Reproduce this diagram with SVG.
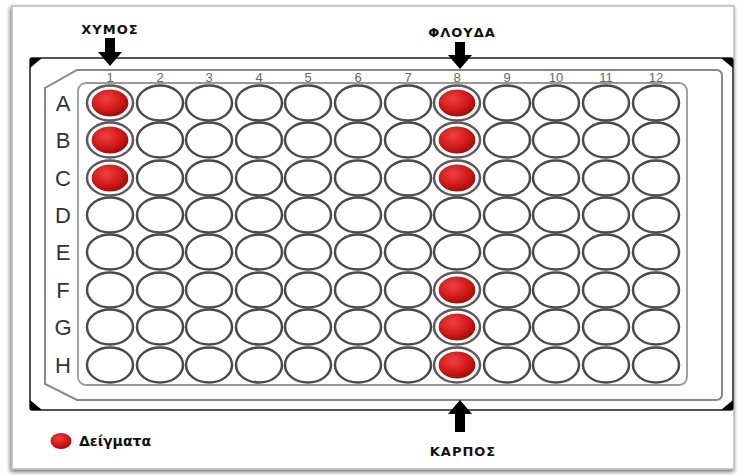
<svg xmlns="http://www.w3.org/2000/svg" width="743" height="475" viewBox="0 0 743 475">
<defs>
<radialGradient id="red" cx="0.4" cy="0.35" r="0.7">
<stop offset="0" stop-color="#f04040"/>
<stop offset="0.6" stop-color="#d01818"/>
<stop offset="1" stop-color="#8a0c0c"/>
</radialGradient>
<filter id="sh" x="-5%" y="-5%" width="110%" height="110%">
<feGaussianBlur in="SourceAlpha" stdDeviation="2"/>
<feOffset dx="-1" dy="2"/>
<feComponentTransfer><feFuncA type="linear" slope="0.6"/></feComponentTransfer>
<feMerge><feMergeNode/><feMergeNode in="SourceGraphic"/></feMerge>
</filter>
</defs>
<style>
.w{fill:#fff;stroke:#4a4a4a;stroke-width:2.5}
.r{fill:url(#red);stroke:#fff;stroke-width:1.2}
.rr{fill:#fff;stroke:#5a5a5a;stroke-width:2.5}
.col{font-family:"Liberation Sans",Arial,sans-serif;font-size:13px;fill:#666;text-anchor:middle}
.row{font-family:"Liberation Sans",Arial,sans-serif;font-size:22px;fill:#333;text-anchor:middle}
.lab{font-family:"DejaVu Sans",sans-serif;font-weight:bold;font-size:13px;fill:#111;text-anchor:middle;letter-spacing:1px}
.arr{fill:#000}
</style>
<rect x="0" y="0" width="743" height="475" fill="#fff"/>
<rect x="12" y="6" width="722" height="463" fill="#fff" stroke="#bbb" stroke-width="1.5" filter="url(#sh)"/>
<g id="plate">
<rect x="30" y="58" width="703" height="352" rx="3" fill="#fff" stroke="#555" stroke-width="2"/>
<path d="M30,58 L42,58 L30,68 Z M733,58 L721,58 L733,68 Z M30,410 L42,410 L30,400 Z M733,410 L721,410 L733,400 Z" fill="#000"/>
<path d="M77,70 L716,70 Q722,70 722,76 L722,394 Q722,400 716,400 L77,400 L45,384 L45,88 Z" fill="#fff" stroke="#888" stroke-width="2"/>
<rect x="78" y="83" width="609" height="302" rx="8" fill="#fff" stroke="#999" stroke-width="1.8"/>
<g id="colnums">
<text class="col" x="110" y="82">1</text><text class="col" x="160" y="82">2</text><text class="col" x="209" y="82">3</text><text class="col" x="259" y="82">4</text><text class="col" x="308" y="82">5</text><text class="col" x="358" y="82">6</text><text class="col" x="408" y="82">7</text><text class="col" x="457" y="82">8</text><text class="col" x="507" y="82">9</text><text class="col" x="556" y="82">10</text><text class="col" x="606" y="82">11</text><text class="col" x="656" y="82">12</text>
</g>
<g id="rowlabels">
<text class="row" x="63" y="111">A</text><text class="row" x="63" y="148">B</text><text class="row" x="63" y="186">C</text><text class="row" x="63" y="223">D</text><text class="row" x="63" y="260">E</text><text class="row" x="63" y="298">F</text><text class="row" x="63" y="335">G</text><text class="row" x="63" y="373">H</text>
</g>
</g>
<g id="wells">
<g id="row-A"><ellipse class="rr" cx="110" cy="103" rx="23" ry="17.5"/><ellipse class="r" cx="110" cy="103" rx="19" ry="14"/><ellipse class="w" cx="160" cy="103" rx="23" ry="17.5"/><ellipse class="w" cx="209" cy="103" rx="23" ry="17.5"/><ellipse class="w" cx="259" cy="103" rx="23" ry="17.5"/><ellipse class="w" cx="308" cy="103" rx="23" ry="17.5"/><ellipse class="w" cx="358" cy="103" rx="23" ry="17.5"/><ellipse class="w" cx="408" cy="103" rx="23" ry="17.5"/><ellipse class="rr" cx="457" cy="103" rx="23" ry="17.5"/><ellipse class="r" cx="457" cy="103" rx="19" ry="14"/><ellipse class="w" cx="507" cy="103" rx="23" ry="17.5"/><ellipse class="w" cx="556" cy="103" rx="23" ry="17.5"/><ellipse class="w" cx="606" cy="103" rx="23" ry="17.5"/><ellipse class="w" cx="656" cy="103" rx="23" ry="17.5"/></g>
<g id="row-B"><ellipse class="rr" cx="110" cy="140" rx="23" ry="17.5"/><ellipse class="r" cx="110" cy="140" rx="19" ry="14"/><ellipse class="w" cx="160" cy="140" rx="23" ry="17.5"/><ellipse class="w" cx="209" cy="140" rx="23" ry="17.5"/><ellipse class="w" cx="259" cy="140" rx="23" ry="17.5"/><ellipse class="w" cx="308" cy="140" rx="23" ry="17.5"/><ellipse class="w" cx="358" cy="140" rx="23" ry="17.5"/><ellipse class="w" cx="408" cy="140" rx="23" ry="17.5"/><ellipse class="rr" cx="457" cy="140" rx="23" ry="17.5"/><ellipse class="r" cx="457" cy="140" rx="19" ry="14"/><ellipse class="w" cx="507" cy="140" rx="23" ry="17.5"/><ellipse class="w" cx="556" cy="140" rx="23" ry="17.5"/><ellipse class="w" cx="606" cy="140" rx="23" ry="17.5"/><ellipse class="w" cx="656" cy="140" rx="23" ry="17.5"/></g>
<g id="row-C"><ellipse class="rr" cx="110" cy="178" rx="23" ry="17.5"/><ellipse class="r" cx="110" cy="178" rx="19" ry="14"/><ellipse class="w" cx="160" cy="178" rx="23" ry="17.5"/><ellipse class="w" cx="209" cy="178" rx="23" ry="17.5"/><ellipse class="w" cx="259" cy="178" rx="23" ry="17.5"/><ellipse class="w" cx="308" cy="178" rx="23" ry="17.5"/><ellipse class="w" cx="358" cy="178" rx="23" ry="17.5"/><ellipse class="w" cx="408" cy="178" rx="23" ry="17.5"/><ellipse class="rr" cx="457" cy="178" rx="23" ry="17.5"/><ellipse class="r" cx="457" cy="178" rx="19" ry="14"/><ellipse class="w" cx="507" cy="178" rx="23" ry="17.5"/><ellipse class="w" cx="556" cy="178" rx="23" ry="17.5"/><ellipse class="w" cx="606" cy="178" rx="23" ry="17.5"/><ellipse class="w" cx="656" cy="178" rx="23" ry="17.5"/></g>
<g id="row-D"><ellipse class="w" cx="110" cy="215" rx="23" ry="17.5"/><ellipse class="w" cx="160" cy="215" rx="23" ry="17.5"/><ellipse class="w" cx="209" cy="215" rx="23" ry="17.5"/><ellipse class="w" cx="259" cy="215" rx="23" ry="17.5"/><ellipse class="w" cx="308" cy="215" rx="23" ry="17.5"/><ellipse class="w" cx="358" cy="215" rx="23" ry="17.5"/><ellipse class="w" cx="408" cy="215" rx="23" ry="17.5"/><ellipse class="w" cx="457" cy="215" rx="23" ry="17.5"/><ellipse class="w" cx="507" cy="215" rx="23" ry="17.5"/><ellipse class="w" cx="556" cy="215" rx="23" ry="17.5"/><ellipse class="w" cx="606" cy="215" rx="23" ry="17.5"/><ellipse class="w" cx="656" cy="215" rx="23" ry="17.5"/></g>
<g id="row-E"><ellipse class="w" cx="110" cy="252" rx="23" ry="17.5"/><ellipse class="w" cx="160" cy="252" rx="23" ry="17.5"/><ellipse class="w" cx="209" cy="252" rx="23" ry="17.5"/><ellipse class="w" cx="259" cy="252" rx="23" ry="17.5"/><ellipse class="w" cx="308" cy="252" rx="23" ry="17.5"/><ellipse class="w" cx="358" cy="252" rx="23" ry="17.5"/><ellipse class="w" cx="408" cy="252" rx="23" ry="17.5"/><ellipse class="w" cx="457" cy="252" rx="23" ry="17.5"/><ellipse class="w" cx="507" cy="252" rx="23" ry="17.5"/><ellipse class="w" cx="556" cy="252" rx="23" ry="17.5"/><ellipse class="w" cx="606" cy="252" rx="23" ry="17.5"/><ellipse class="w" cx="656" cy="252" rx="23" ry="17.5"/></g>
<g id="row-F"><ellipse class="w" cx="110" cy="290" rx="23" ry="17.5"/><ellipse class="w" cx="160" cy="290" rx="23" ry="17.5"/><ellipse class="w" cx="209" cy="290" rx="23" ry="17.5"/><ellipse class="w" cx="259" cy="290" rx="23" ry="17.5"/><ellipse class="w" cx="308" cy="290" rx="23" ry="17.5"/><ellipse class="w" cx="358" cy="290" rx="23" ry="17.5"/><ellipse class="w" cx="408" cy="290" rx="23" ry="17.5"/><ellipse class="rr" cx="457" cy="290" rx="23" ry="17.5"/><ellipse class="r" cx="457" cy="290" rx="19" ry="14"/><ellipse class="w" cx="507" cy="290" rx="23" ry="17.5"/><ellipse class="w" cx="556" cy="290" rx="23" ry="17.5"/><ellipse class="w" cx="606" cy="290" rx="23" ry="17.5"/><ellipse class="w" cx="656" cy="290" rx="23" ry="17.5"/></g>
<g id="row-G"><ellipse class="w" cx="110" cy="327" rx="23" ry="17.5"/><ellipse class="w" cx="160" cy="327" rx="23" ry="17.5"/><ellipse class="w" cx="209" cy="327" rx="23" ry="17.5"/><ellipse class="w" cx="259" cy="327" rx="23" ry="17.5"/><ellipse class="w" cx="308" cy="327" rx="23" ry="17.5"/><ellipse class="w" cx="358" cy="327" rx="23" ry="17.5"/><ellipse class="w" cx="408" cy="327" rx="23" ry="17.5"/><ellipse class="rr" cx="457" cy="327" rx="23" ry="17.5"/><ellipse class="r" cx="457" cy="327" rx="19" ry="14"/><ellipse class="w" cx="507" cy="327" rx="23" ry="17.5"/><ellipse class="w" cx="556" cy="327" rx="23" ry="17.5"/><ellipse class="w" cx="606" cy="327" rx="23" ry="17.5"/><ellipse class="w" cx="656" cy="327" rx="23" ry="17.5"/></g>
<g id="row-H"><ellipse class="w" cx="110" cy="365" rx="23" ry="17.5"/><ellipse class="w" cx="160" cy="365" rx="23" ry="17.5"/><ellipse class="w" cx="209" cy="365" rx="23" ry="17.5"/><ellipse class="w" cx="259" cy="365" rx="23" ry="17.5"/><ellipse class="w" cx="308" cy="365" rx="23" ry="17.5"/><ellipse class="w" cx="358" cy="365" rx="23" ry="17.5"/><ellipse class="w" cx="408" cy="365" rx="23" ry="17.5"/><ellipse class="rr" cx="457" cy="365" rx="23" ry="17.5"/><ellipse class="r" cx="457" cy="365" rx="19" ry="14"/><ellipse class="w" cx="507" cy="365" rx="23" ry="17.5"/><ellipse class="w" cx="556" cy="365" rx="23" ry="17.5"/><ellipse class="w" cx="606" cy="365" rx="23" ry="17.5"/><ellipse class="w" cx="656" cy="365" rx="23" ry="17.5"/></g>
</g>
<g id="labels">
<g id="chymos"><text class="lab" x="110" y="34">ΧΥΜΟΣ</text><path class="arr" d="M105,38 L115,38 L115,52 L122,52 L110,66 L98,52 L105,52 Z"/></g>
<g id="floyda"><text class="lab" x="462" y="37">ΦΛΟΥΔΑ</text><path class="arr" d="M455,42 L465,42 L465,55 L472,55 L460,69 L448,55 L455,55 Z"/></g>
<g id="karpos"><text class="lab" x="463" y="456">ΚΑΡΠΟΣ</text><path class="arr" d="M460,400 L472,414 L465,414 L465,432 L455,432 L455,414 L448,414 Z"/></g>
</g>
<g id="legend">
<ellipse cx="61" cy="441" rx="10.5" ry="8" fill="url(#red)"/>
<text x="79" y="446" font-family="DejaVu Sans,sans-serif" font-weight="bold" font-size="14px" fill="#111">Δείγματα</text>
</g>
</svg>
